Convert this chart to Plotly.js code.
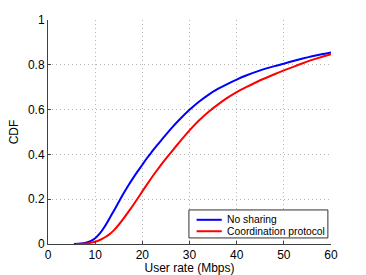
<!DOCTYPE html>
<html>
<head>
<meta charset="utf-8">
<script src="https://cdn.plot.ly/plotly-3.0.1.min.js"></script>
<style>html,body{margin:0;padding:0;background:#fff;}#chart{width:366px;height:275px;}</style>
</head>
<body>
<div id="chart"></div>
<script>
const rateNoSharing = [5.5, 7, 8, 9, 10, 11, 12, 13, 14, 15, 16, 17, 18, 19, 20, 21, 22, 23, 24, 26, 28, 30, 32, 34, 36, 38, 40, 42, 45, 48, 50, 52, 54, 56, 58, 60];
const cdfNoSharing = [0, 0.002, 0.006, 0.013, 0.026, 0.047, 0.077, 0.113, 0.15, 0.188, 0.225, 0.26, 0.293, 0.324, 0.354, 0.384, 0.411, 0.438, 0.463, 0.513, 0.558, 0.599, 0.635, 0.666, 0.692, 0.714, 0.734, 0.752, 0.775, 0.794, 0.805, 0.817, 0.828, 0.838, 0.847, 0.855];
const rateCoord = [6, 8, 9, 10, 11, 12, 13, 14, 15, 16, 17, 18, 19, 20, 21, 22, 23, 24, 25, 26, 28, 30, 32, 34, 36, 38, 40, 42, 45, 48, 50, 52, 54, 56, 58, 60];
const cdfCoord = [0, 0.002, 0.005, 0.01, 0.018, 0.029, 0.043, 0.062, 0.086, 0.113, 0.142, 0.172, 0.203, 0.235, 0.266, 0.297, 0.326, 0.354, 0.381, 0.407, 0.458, 0.507, 0.551, 0.589, 0.622, 0.652, 0.678, 0.7, 0.731, 0.758, 0.775, 0.791, 0.807, 0.822, 0.835, 0.847];
const seriesNames = ["No sharing", "Coordination protocol"];
const seriesColors = ["#0000ff", "#ff0000"];
const xTicks = [0, 10, 20, 30, 40, 50, 60];
const yTicks = [0, 0.2, 0.4, 0.6, 0.8, 1];
const yTickText = ["0", "0.2", "0.4", "0.6", "0.8", "1"];

const fam = "Liberation Sans, Arial, sans-serif";
const font = {family: fam, size: 12, color: "#000"};
const traces = [
  {x: rateNoSharing, y: cdfNoSharing, name: seriesNames[0], mode: "lines", line: {color: seriesColors[0], width: 2, shape: "spline", smoothing: 0.6}, showlegend: false},
  {x: rateCoord, y: cdfCoord, name: seriesNames[1], mode: "lines", line: {color: seriesColors[1], width: 2, shape: "spline", smoothing: 0.6}, showlegend: false}
];

// legend drawn in paper coordinates
const legBox = {x0: 0.498, x1: 0.989, y0: 0.027, y1: 0.152};
const legRows = [0.108, 0.057];
const shapes = [{type: "rect", xref: "paper", yref: "paper", x0: legBox.x0, x1: legBox.x1, y0: legBox.y0, y1: legBox.y1,
  line: {color: "#303030", width: 1}, fillcolor: "#fff", layer: "above"}];
const annotations = [];
seriesNames.forEach((n, i) => {
  shapes.push({type: "line", xref: "paper", yref: "paper", x0: 0.525, x1: 0.614, y0: legRows[i], y1: legRows[i],
    line: {color: seriesColors[i], width: 2}, layer: "above"});
  annotations.push({xref: "paper", yref: "paper", x: 0.624, y: legRows[i], xanchor: "left", yanchor: "middle",
    text: n, showarrow: false, font: {family: fam, size: 10.3, color: "#000"}});
});

const layout = {
  width: 366, height: 275,
  margin: {l: 48, r: 35, t: 20, b: 31},
  paper_bgcolor: "#fff", plot_bgcolor: "#fff",
  font: font,
  showlegend: false,
  xaxis: {
    range: [0, 60], tickvals: xTicks, ticktext: xTicks.map(String),
    showline: true, linecolor: "#404040", linewidth: 1, mirror: false,
    ticks: "inside", ticklen: 3, tickcolor: "#404040",
    showgrid: true, gridcolor: "#b4b4b4", griddash: "1px,3px", gridwidth: 1,
    zeroline: false, fixedrange: true,
    title: {text: "User rate (Mbps)", font: font, standoff: 2},
    tickfont: font
  },
  yaxis: {
    range: [0, 1], tickvals: yTicks, ticktext: yTickText,
    showline: true, linecolor: "#404040", linewidth: 1, mirror: false,
    ticks: "inside", ticklen: 3, tickcolor: "#404040",
    showgrid: true, gridcolor: "#b4b4b4", griddash: "1px,3px", gridwidth: 1,
    zeroline: false, fixedrange: true,
    title: {text: "CDF", font: font, standoff: 6},
    tickfont: font
  },
  shapes: shapes,
  annotations: annotations
};
Plotly.newPlot("chart", traces, layout, {displayModeBar: false, staticPlot: true});
</script>
</body>
</html>
